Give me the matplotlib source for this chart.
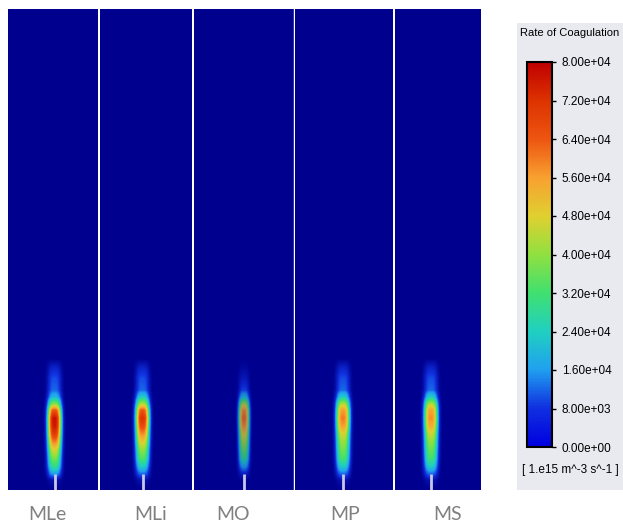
import numpy as np
import matplotlib
matplotlib.use('Agg')
import matplotlib.pyplot as plt
from matplotlib.colors import LinearSegmentedColormap, Normalize
from matplotlib.cm import ScalarMappable
from matplotlib.patches import Rectangle

# cases, one contour panel each
cases = ['MLe', 'MLi', 'MO', 'MP', 'MS']

# height above the inlet (panel units) where the axis profile was read
heights = [0, 10, 16, 24, 32, 40, 48, 56, 64, 72, 80, 86, 93, 100, 112, 122, 132]

# rate of coagulation along the plume axis, in 1e4
rate_mle = [0, 0.3, 1.6, 3.0, 3.8, 4.7, 5.9, 7.0, 7.6, 7.7, 6.4, 4.0, 2.0, 1.2, 1.0, 0.6, 0]
rate_mli = [0, 0.3, 1.2, 2.4, 3.4, 4.0, 4.9, 5.8, 6.7, 7.2, 6.4, 4.4, 2.4, 1.2, 1.0, 0.6, 0]
rate_mo = [0, 0.1, 0.6, 1.8, 3.0, 3.6, 4.2, 4.9, 5.8, 6.2, 5.8, 4.4, 2.2, 1.0, 0.5, 0.2, 0]
rate_mp = [0, 0.3, 1.2, 2.4, 3.3, 3.7, 4.1, 4.7, 5.6, 6.0, 5.6, 4.4, 2.4, 1.2, 1.0, 0.6, 0]
rate_ms = [0, 0.3, 1.2, 2.4, 3.2, 3.6, 4.0, 4.6, 5.4, 5.8, 5.5, 4.4, 2.4, 1.2, 1.0, 0.6, 0]
rates = [rate_mle, rate_mli, rate_mo, rate_mp, rate_ms]

# plume half width (panel units)
half_width = [6.8, 6.8, 5.2, 6.8, 6.8]

# colorbar
cbar_ticks = [0, 8e3, 1.6e4, 2.4e4, 3.2e4, 4.0e4, 4.8e4, 5.6e4, 6.4e4, 7.2e4, 8.0e4]
vmax = 8e4

# layout (pixels of a 623 x 527 image)
W, H = 623, 527
panel_left = [8, 100, 194, 295, 395]
panel_right = [98, 192, 293, 393, 481]
plume_x = [54.5, 142.5, 243.5, 343, 431]
label_x = [47, 151, 233, 345, 448]
panel_top, panel_bottom = 9, 490
plume_alpha = [1, 1, 0.8, 1, 1]

navy = '#00008F'
bar_colors = ['#0000E0', '#1030E0', '#20A0F0', '#20D0C0', '#40E070', '#90E040',
              '#E0D030', '#F8A030', '#EE5511', '#DD3300', '#C00000']
cmap_bar = LinearSegmentedColormap.from_list('fluent', bar_colors)
cmap_field = LinearSegmentedColormap.from_list('fluent_bg', [navy] + bar_colors[1:])
norm = Normalize(0, vmax)

fig = plt.figure(figsize=(W / 100, H / 100), dpi=100)
fig.patch.set_facecolor('white')

ph = panel_bottom - panel_top
for i, name in enumerate(cases):
    l, r = panel_left[i], panel_right[i]
    ax = fig.add_axes([l / W, (H - panel_bottom) / H, (r - l) / W, ph / H])
    ax.set_facecolor(navy)

    x = np.arange(l, r) + 0.5 - plume_x[i]
    z = np.arange(0, ph) + 0.5
    axis_rate = np.interp(z, heights, rates[i]) * 1e4
    field = axis_rate[:, None] * np.exp(-(np.abs(x[None, :]) / half_width[i]) ** 3)

    ax.imshow(field, origin='lower', extent=[x[0] - 0.5, x[-1] + 0.5, 0, ph],
              cmap=cmap_field, norm=norm, aspect='auto', interpolation='bilinear',
              alpha=plume_alpha[i])
    # inlet nozzle
    ax.plot([0, 0], [0, 16], color='#C8C8E6', lw=2, solid_capstyle='butt')
    ax.set_xlim(x[0] - 0.5, x[-1] + 0.5)
    ax.set_ylim(0, ph)
    ax.set_xticks([])
    ax.set_yticks([])
    for s in ax.spines.values():
        s.set_visible(False)

    fig.text(label_x[i] / W, (H - 515) / H, name, ha='center', va='center',
             fontsize=14, color='#808080', family=['Lato', 'DejaVu Sans'])

# legend box
fig.add_artist(Rectangle((517 / W, (H - 490) / H), 106 / W, 467 / H,
                         transform=fig.transFigure, facecolor='#E8EAF0',
                         edgecolor='none', zorder=0))

legend_font = ['Liberation Sans', 'DejaVu Sans']
cax = fig.add_axes([527 / W, (H - 447) / H, 25 / W, 385 / H])
cb = fig.colorbar(ScalarMappable(norm=norm, cmap=cmap_bar), cax=cax, ticks=cbar_ticks)
cb.outline.set_linewidth(1.5)
cb.ax.set_yticklabels(['%.2e' % t for t in cbar_ticks], family=legend_font, fontsize=8.5)
cb.ax.tick_params(length=3, width=1, pad=4)

fig.text(570 / W, (H - 33) / H, 'Rate of Coagulation', ha='center', va='center',
         fontsize=8, family=legend_font)
fig.text(570 / W, (H - 470) / H, '[ 1.e15 m^-3 s^-1 ]', ha='center', va='center',
         fontsize=8.5, family=legend_font)

fig.savefig('out.png', dpi=100)
